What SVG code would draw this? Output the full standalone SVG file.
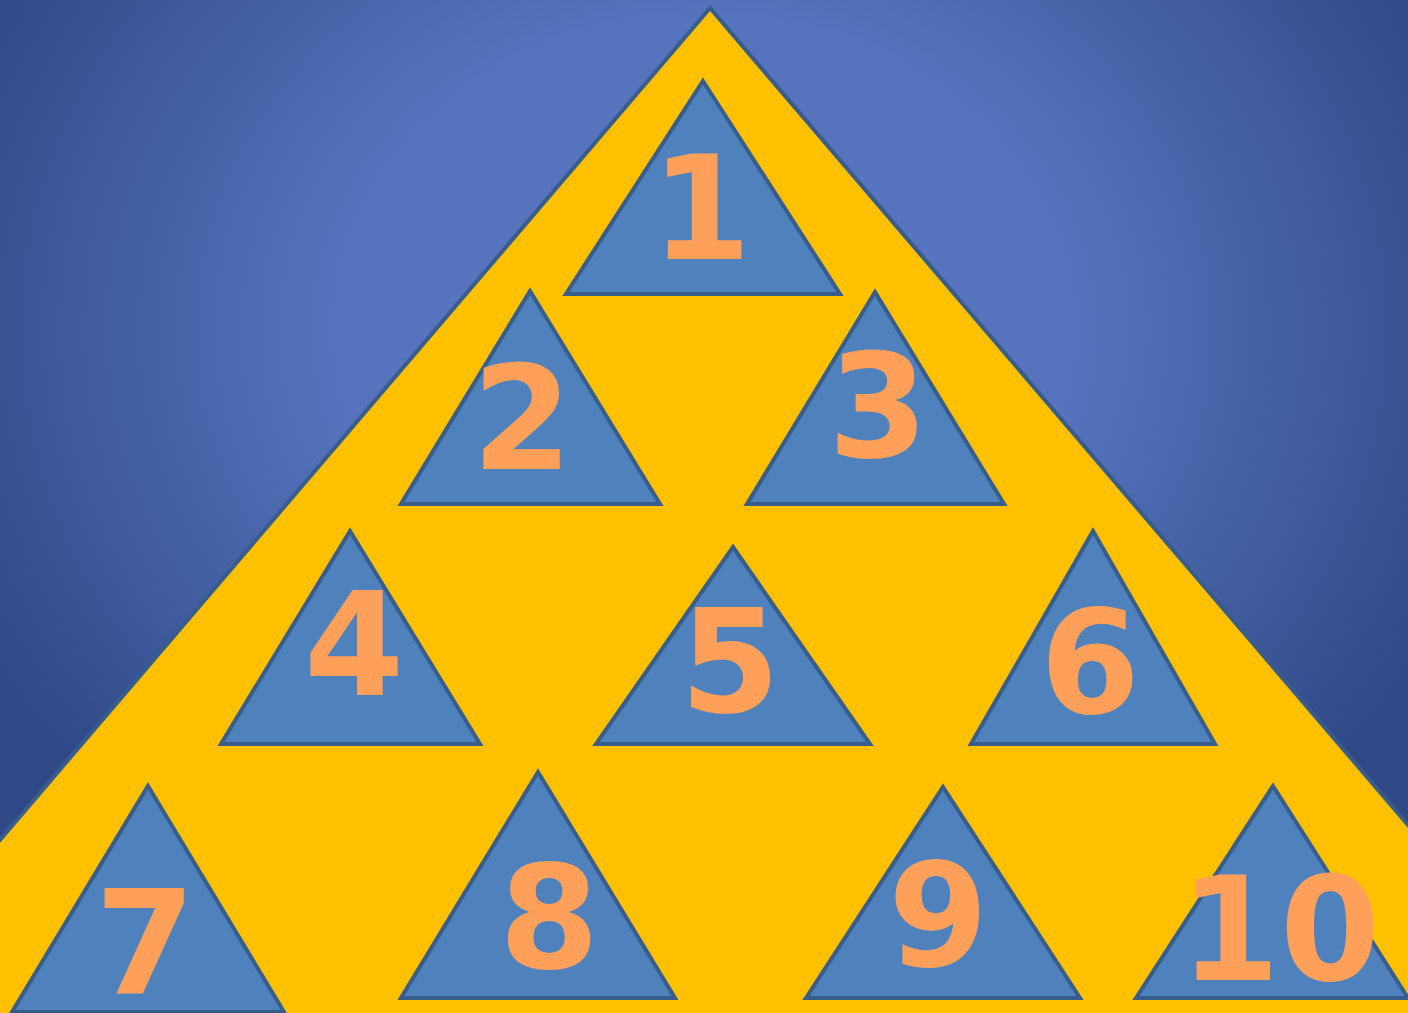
<svg xmlns="http://www.w3.org/2000/svg" width="1408" height="1013" viewBox="0 0 1408 1013">
<defs>
<radialGradient id="bg" cx="704" cy="330" r="820" gradientUnits="userSpaceOnUse" gradientTransform="translate(704 330) scale(1 0.85) translate(-704 -330)">
<stop offset="0" stop-color="#5876c0"/>
<stop offset="0.45" stop-color="#5574bd"/>
<stop offset="1" stop-color="#2f4886"/>
</radialGradient>
</defs>
<style>
.tri{fill:#4f81bd;stroke:#385d8a;stroke-width:4;stroke-linejoin:miter}
.lbl{font-family:"DejaVu Sans",sans-serif;font-weight:bold;font-size:144px;fill:#ffa05a;text-anchor:middle}
</style>
<rect x="0" y="0" width="1408" height="1013" fill="url(#bg)"/>
<g id="frame">
<polygon points="710,8 1508,942 1508,1100 -100,1100 -100,957" fill="#ffc000" stroke="#385d8a" stroke-width="4"/>
</g>
<g id="connectors"/>
<g id="n1"><polygon class="tri" points="703,81 840,294 566,294"/><text class="lbl" x="701" y="259">1</text></g>
<g id="n2"><polygon class="tri" points="530,291 660,504 401,504"/><text class="lbl" x="522" y="469">2</text></g>
<g id="n3"><polygon class="tri" points="875,292 1004,504 747,504"/><text class="lbl" x="878" y="457">3</text></g>
<g id="n4"><polygon class="tri" points="350,531 480,744 221,744"/><text class="lbl" x="354" y="695">4</text></g>
<g id="n5"><polygon class="tri" points="733,547 870,744 596,744"/><text class="lbl" x="730" y="712">5</text></g>
<g id="n6"><polygon class="tri" points="1093,531 1215,744 971,744"/><text class="lbl" x="1090" y="713">6</text></g>
<g id="n7"><polygon class="tri" points="148,786 284,1012 12,1012"/><text class="lbl" x="145" y="993">7</text></g>
<g id="n8"><polygon class="tri" points="538,772 675,998 401,998"/><text class="lbl" x="549" y="968">8</text></g>
<g id="n9"><polygon class="tri" points="943,787 1080,998 806,998"/><text class="lbl" x="938" y="966">9</text></g>
<g id="n10"><polygon class="tri" points="1273,786 1408,998 1136,998"/><text class="lbl" x="1280" y="980">10</text></g>
</svg>
